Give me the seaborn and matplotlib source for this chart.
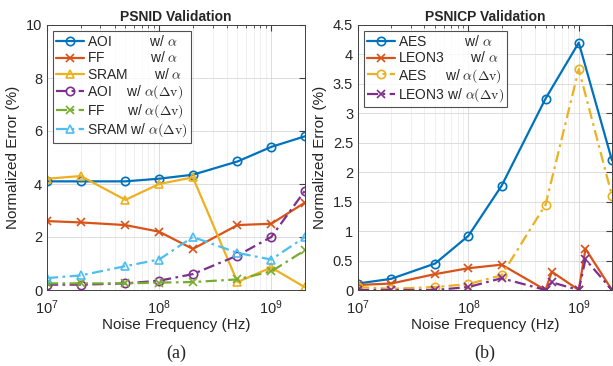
import matplotlib
matplotlib.use("Agg")
import matplotlib.pyplot as plt
import seaborn as sns

# ---- data (a) PSNID ----
freq_a = [1e7, 2e7, 5e7, 1e8, 2e8, 5e8, 1e9, 2e9]
aoi_a = [4.1, 4.1, 4.1, 4.2, 4.35, 4.85, 5.4, 5.8]
ff_a = [2.6, 2.55, 2.45, 2.2, 1.55, 2.45, 2.5, 3.3]
sram_a = [4.2, 4.3, 3.4, 4.0, 4.25, 0.3, 0.85, 0.1]
aoi_dv = [0.2, 0.2, 0.25, 0.35, 0.6, 1.3, 2.0, 3.75]
ff_dv = [0.25, 0.25, 0.25, 0.28, 0.3, 0.4, 0.7, 1.5]
sram_dv = [0.45, 0.55, 0.9, 1.15, 2.0, 1.4, 1.15, 2.0]

# ---- data (b) PSNICP ----
freq_b = [1e7, 2e7, 5e7, 1e8, 2e8, 5e8, 1e9, 2e9]
aes_a = [0.11, 0.19, 0.45, 0.92, 1.77, 3.25, 4.2, 2.2]
aes_dv = [0.05, 0.02, 0.05, 0.1, 0.25, 1.45, 3.75, 1.6]
freq_leon = [1e7, 2e7, 5e7, 1e8, 2e8, 5e8, 5.7e8, 1e9, 1.15e9, 2e9]
leon_a = [0.085, 0.11, 0.27, 0.37, 0.43, 0.0, 0.31, 0.0, 0.70, 0.0]
leon_dv = [0.0, 0.0, 0.0, 0.05, 0.2, 0.0, 0.13, 0.0, 0.52, 0.0]

blue, red, yel, pur, grn, cyan = "#0072BD", "#D95319", "#EDB120", "#7E2F8E", "#77AC30", "#4DBEEE"
dashdot = (0, (5, 2, 1.2, 2))

sns.set_style("white")
plt.rcParams['font.family'] = ['Liberation Sans', 'DejaVu Sans']
plt.rcParams['mathtext.fontset'] = 'cm'

fig = plt.figure(figsize=(6.13, 3.66), dpi=100)
ax1 = fig.add_axes([47/613, 1-290/366, (305-47)/613, 265/366])
ax2 = fig.add_axes([358/613, 1-290/366, (612-358)/613, 265/366])


def draw(ax, x, y, color, marker, ls, label, ms=6):
    sns.lineplot(x=x, y=y, ax=ax, color=color, marker=marker, linestyle=ls,
                 linewidth=1.6, markersize=ms, markerfacecolor='none',
                 markeredgecolor=color, markeredgewidth=1.2, label=label)


a = r'$\alpha$'
adv = r'$\alpha(\Delta\mathrm{v})$'
draw(ax1, freq_a, aoi_a, blue, 'o', '-', 'AOI          w/ ' + a)
draw(ax1, freq_a, ff_a, red, 'x', '-', 'FF            w/ ' + a)
draw(ax1, freq_a, sram_a, yel, '^', '-', 'SRAM       w/ ' + a)
draw(ax1, freq_a, aoi_dv, pur, 'o', dashdot, 'AOI    w/ ' + adv)
draw(ax1, freq_a, ff_dv, grn, 'x', dashdot, 'FF      w/ ' + adv)
draw(ax1, freq_a, sram_dv, cyan, '^', dashdot, 'SRAM w/ ' + adv)

draw(ax2, freq_b, aes_a, blue, 'o', '-', 'AES          w/ ' + a)
draw(ax2, freq_leon, leon_a, red, 'x', '-', 'LEON3       w/ ' + a)
draw(ax2, freq_b, aes_dv, yel, 'o', dashdot, 'AES     w/ ' + adv)
draw(ax2, freq_leon, leon_dv, pur, 'x', dashdot, 'LEON3 w/ ' + adv)

for ax, title, ymax, yt, tag in [
        (ax1, 'PSNID Validation', 10, [0, 2, 4, 6, 8, 10], '(a)'),
        (ax2, 'PSNICP Validation', 4.5, [0, 0.5, 1, 1.5, 2, 2.5, 3, 3.5, 4, 4.5], '(b)')]:
    ax.set_xscale('log')
    ax.set_xlim(1e7, 2e9)
    ax.set_ylim(0, ymax)
    ax.set_yticks(yt)
    ax.set_yticklabels([f'{v:g}' for v in yt])
    ax.grid(True, which='major', color='#dcdcdc', linewidth=0.7)
    ax.grid(True, which='minor', axis='x', color='#ececec', linewidth=0.6)
    ax.tick_params(which='both', direction='in', top=True, right=True,
                   colors='#404040', labelsize=10.5, labelcolor='#262626')
    ax.tick_params(which='major', length=4)
    ax.tick_params(which='minor', length=2)
    ax.tick_params(axis='x', which='major', pad=6)
    for s in ax.spines.values():
        s.set_color('#404040')
        s.set_linewidth(0.7)
    ax.set_title(title, fontsize=10, fontweight='bold', pad=3)
    ax.set_xlabel('Noise Frequency (Hz)', fontsize=11, color='#262626', labelpad=1)
    ax.set_ylabel('Normalized Error (%)', fontsize=11, color='#262626', labelpad=4)
    leg = ax.legend(loc='upper left', fontsize=10, frameon=True, fancybox=False,
                    handlelength=2.0, handletextpad=0.2, borderpad=0.25,
                    labelspacing=0.1, borderaxespad=0.4)
    leg.get_frame().set_edgecolor('#262626')
    leg.get_frame().set_linewidth(0.8)
    pos = ax.get_position()
    fig.text((pos.x0 + pos.x1) / 2, 0.01, tag, ha='center', va='bottom',
             fontsize=13, family='Liberation Serif')

fig.savefig('out.png', dpi=100)
